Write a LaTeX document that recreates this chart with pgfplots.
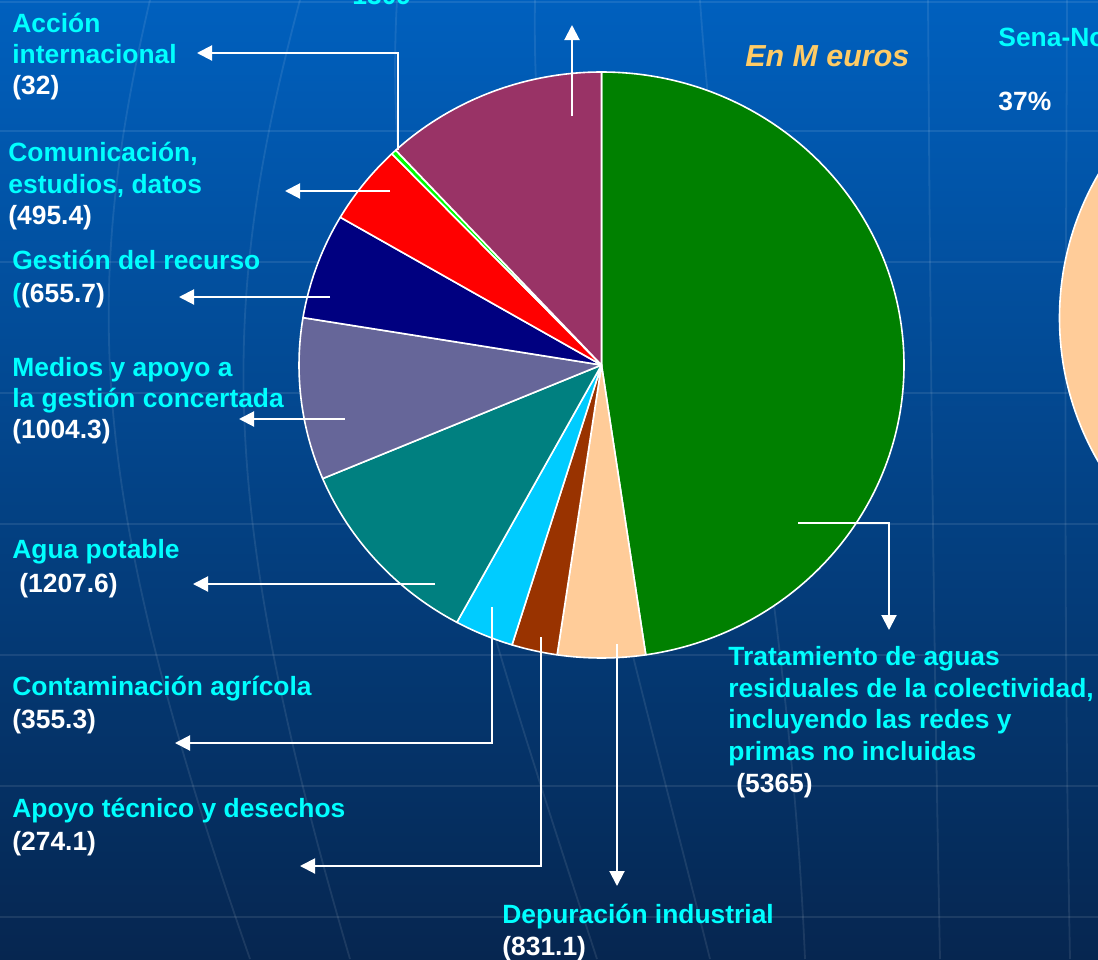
\documentclass[border=0pt]{standalone}
\usepackage{pgfplots}
\pgfplotsset{compat=1.18}
\usepackage{pgfplotstable}
\usepackage{fontspec}
\setmainfont{Liberation Sans}
\usetikzlibrary{arrows.meta}

\definecolor{pie0}{HTML}{008000}
\definecolor{pie1}{HTML}{FFCC99}
\definecolor{pie2}{HTML}{993300}
\definecolor{pie3}{HTML}{00CCFF}
\definecolor{pie4}{HTML}{008080}
\definecolor{pie5}{HTML}{666699}
\definecolor{pie6}{HTML}{000080}
\definecolor{pie7}{HTML}{FF0000}
\definecolor{pie8}{HTML}{00FF00}
\definecolor{pie9}{HTML}{993366}
\definecolor{lcyan}{HTML}{00FFFF}
\definecolor{eur}{HTML}{FFCC66}
\definecolor{bgtop}{RGB}{0,96,190}
\definecolor{bgmid}{RGB}{0,72,145}
\definecolor{bgbot}{RGB}{6,38,80}

% slice sizes as drawn in the picture (M euros)
\pgfplotstableread{
slice value
Tratamiento 5365
Depuracion 527
Apoyo 274.1
Contaminacion 355.3
Agua 1207.6
Medios 1004.3
Gestion 655.7
Comunicacion 495.4
Accion 32
Otros 1340
}\pietable

\newcommand\lblfont{\fontsize{13.2pt}{15.8pt}\selectfont\bfseries}

\def\pietotal{0}%
\pgfplotstableforeachcolumnelement{value}\of\pietable\as\v{%
  \pgfmathsetmacro\tmp{\pietotal+\v}\xdef\pietotal{\tmp}}%
\def\pieacc{0}%
\pgfplotstableforeachcolumnelement{value}\of\pietable\as\v{%
  \pgfmathsetmacro\sa{90-360*(\pieacc/\pietotal)}%
  \pgfmathsetmacro\tmp{\pieacc+\v}\xdef\pieacc{\tmp}%
  \pgfmathsetmacro\ea{90-360*(\pieacc/\pietotal)}%
  \expandafter\xdef\csname pieS\pgfplotstablerow\endcsname{\sa}%
  \expandafter\xdef\csname pieE\pgfplotstablerow\endcsname{\ea}%
}%

\begin{document}%
\begin{tikzpicture}[
  arr/.style={draw=white, line width=1pt, -{Triangle[length=7.5pt,width=7.5pt]}},
  grid/.style={draw=white, opacity=0.09, line width=1.2pt}]
\begin{axis}[name=ax, x=0.5pt, y=0.5pt, xmin=0, xmax=1098, ymin=0, ymax=959,
  y dir=reverse, hide axis, scale only axis, clip=true]
\coordinate (TL) at (axis cs:0,0);
\coordinate (BR) at (axis cs:1098,959);
% background
\fill[top color=bgtop, middle color=bgmid, bottom color=bgbot] (axis cs:0,0) rectangle (axis cs:1098,959);
\pgfplotsinvokeforeach{2,131,262,393,524,655,786,917}{
  \draw[grid] (axis cs:0,#1) -- (axis cs:1098,#1);}
\draw[grid, line width=0.9pt] (axis cs:150,0) .. controls (axis cs:80,300) and (axis cs:90,500) .. (axis cs:250,959);
\draw[grid, line width=0.9pt] (axis cs:300,0) .. controls (axis cs:220,300) and (axis cs:215,500) .. (axis cs:350,959);
\draw[grid, line width=0.9pt] (axis cs:397,0) .. controls (axis cs:380,300) and (axis cs:480,600) .. (axis cs:597,959);
\draw[grid, line width=0.9pt] (axis cs:535,0) .. controls (axis cs:530,300) and (axis cs:620,600) .. (axis cs:710,959);
\draw[grid, line width=0.9pt] (axis cs:700,0) .. controls (axis cs:720,300) and (axis cs:790,600) .. (axis cs:805,959);
\draw[grid, line width=0.9pt] (axis cs:928,0) .. controls (axis cs:930,300) and (axis cs:933,600) .. (axis cs:940,959);
\draw[grid, line width=0.9pt] (axis cs:1067,0) .. controls (axis cs:1066,300) and (axis cs:1063,600) .. (axis cs:1070,959);
% second (cut-off) pie
\fill[pie1, draw=white, line width=0.8pt] (axis cs:1362,318) ellipse [x radius=151.25pt, y radius=146.5pt];
% main pie
\pgfplotsinvokeforeach{0,...,9}{%
  \edef\sA{\csname pieS#1\endcsname}\edef\eA{\csname pieE#1\endcsname}%
  \edef\temp{\noexpand\fill[pie#1,draw=white,line width=0.8pt,line join=round] (axis cs:601.5,365) -- ++(\sA:151.25pt and 146.5pt) arc[start angle=\sA, end angle=\eA, x radius=151.25pt, y radius=146.5pt] -- cycle;}%
  \temp
}
% leader arrows
\draw[arr] (axis cs:572,116) -- (axis cs:572,25);
\draw[arr] (axis cs:398,150) -- (axis cs:398,53) -- (axis cs:197,53);
\draw[arr] (axis cs:390,191) -- (axis cs:285,191);
\draw[arr] (axis cs:330,297) -- (axis cs:179,297);
\draw[arr] (axis cs:345,419) -- (axis cs:239,419);
\draw[arr] (axis cs:435,584) -- (axis cs:193,584);
\draw[arr] (axis cs:492,607) -- (axis cs:492,743) -- (axis cs:175,743);
\draw[arr] (axis cs:541,637) -- (axis cs:541,866) -- (axis cs:300,866);
\draw[arr] (axis cs:617,644) -- (axis cs:617,886);
\draw[arr] (axis cs:798,523) -- (axis cs:889,523) -- (axis cs:889,630);
% labels
\tikzset{lb/.style={anchor=base west, inner sep=0pt, font=\lblfont}}
\node[lb, text=lcyan] at (axis cs:352,4) {1309};
\node[lb, text=lcyan] at (axis cs:12,32) {Acción};
\node[lb, text=lcyan] at (axis cs:12,63) {internacional};
\node[lb, text=white] at (axis cs:12,94) {(32)};
\node[lb, text=lcyan] at (axis cs:8,161) {Comunicación,};
\node[lb, text=lcyan] at (axis cs:8,193) {estudios, datos};
\node[lb, text=white] at (axis cs:8,224) {(495.4)};
\node[lb, text=lcyan] at (axis cs:12,269) {Gestión del recurso};
\node[lb] at (axis cs:12,302) {\textcolor{lcyan}{(}\textcolor{white}{(655.7)}};
\node[lb, text=lcyan] at (axis cs:12,376) {Medios y apoyo a};
\node[lb, text=lcyan] at (axis cs:12,407) {la gestión concertada};
\node[lb, text=white] at (axis cs:12,438) {(1004.3)};
\node[lb, text=lcyan] at (axis cs:12,558) {Agua potable};
\node[lb, text=white] at (axis cs:19,592) {(1207.6)};
\node[lb, text=lcyan] at (axis cs:12,695) {Contaminación agrícola};
\node[lb, text=white] at (axis cs:12,728) {(355.3)};
\node[lb, text=lcyan] at (axis cs:12,817) {Apoyo técnico y desechos};
\node[lb, text=white] at (axis cs:12,850) {(274.1)};
\node[lb, text=lcyan] at (axis cs:502,923) {Depuración industrial};
\node[lb, text=white] at (axis cs:502,955) {(831.1)};
\node[lb, text=lcyan] at (axis cs:728,665) {Tratamiento de aguas};
\node[lb, text=lcyan] at (axis cs:728,697) {residuales de la colectividad,};
\node[lb, text=lcyan] at (axis cs:728,728) {incluyendo las redes y};
\node[lb, text=lcyan] at (axis cs:728,760) {primas no incluidas};
\node[lb, text=white] at (axis cs:736,792) {(5365)};
\node[anchor=base west, inner sep=0pt, text=eur, font=\fontsize{15.2pt}{17pt}\selectfont\bfseries\itshape] at (axis cs:745,66) {En M euros};
\node[lb, text=lcyan] at (axis cs:998,46) {Sena-Normandía};
\node[lb, text=white] at (axis cs:998,110) {37\%};
\end{axis}
\pgfresetboundingbox
\useasboundingbox (TL) rectangle (BR);
\end{tikzpicture}%
\end{document}
